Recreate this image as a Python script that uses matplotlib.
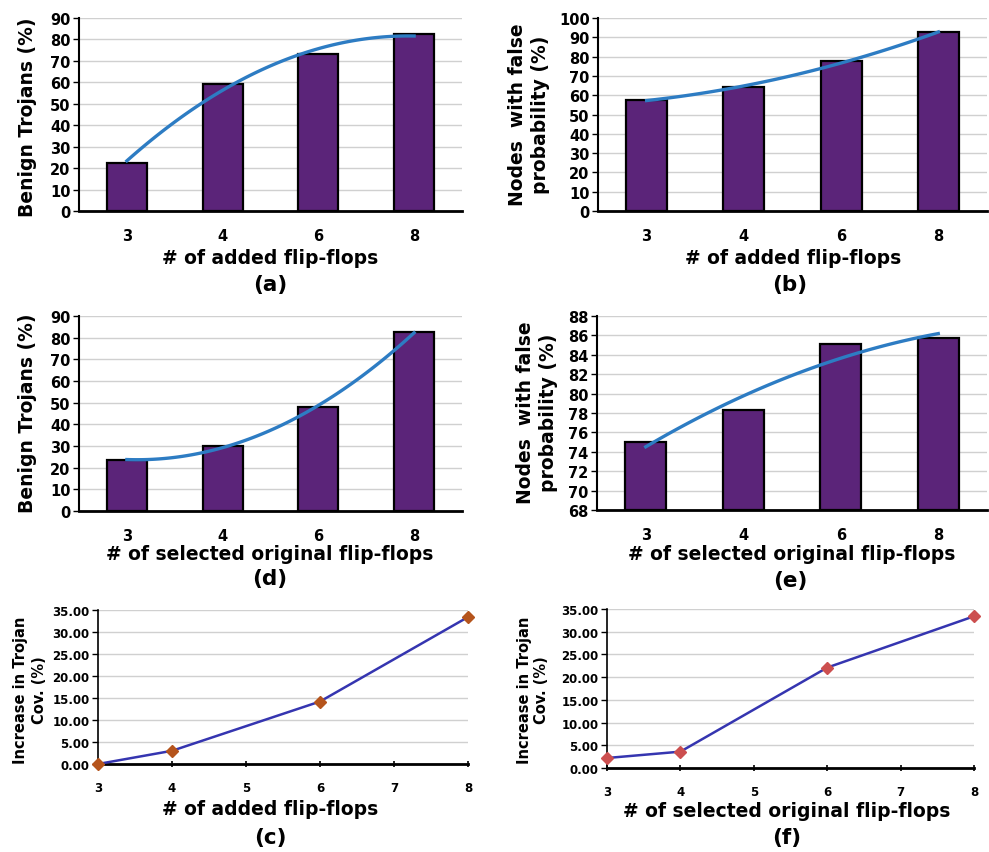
import numpy as np
import matplotlib
matplotlib.use("Agg")
import matplotlib.pyplot as plt

W, H = 989, 853

# ---- data ----
bar_cats = ["3", "4", "6", "8"]
benign_added = [22.5, 59, 73, 82.5]            # (a)
nodes_added = [57.5, 64, 77.5, 92.5]           # (b)
benign_selected = [23.5, 30, 48, 82.5]         # (d)
nodes_selected = [75, 78.3, 85.1, 85.7]        # (e)

cov_x = [3, 4, 6, 8]
cov_added = [0.0, 3.0, 14.2, 33.4]             # (c)
cov_selected = [2.2, 3.6, 22.1, 33.4]          # (f)

BAR = "#5b2479"
TREND = "#2d7cc3"
LINE = "#3535b0"

plt.rcParams["font.family"] = "DejaVu Sans"
plt.rcParams["font.weight"] = "bold"

fig = plt.figure(figsize=(W / 100, H / 100), dpi=100)


def box(left, right, top, bottom):
    return [left / W, 1 - bottom / H, (right - left) / W, (bottom - top) / H]


def ftext(x, y, s, size, rot=0):
    fig.text(x / W, 1 - y / H, s, ha="center", va="center", fontsize=size,
             fontweight="bold", rotation=rot, linespacing=1.25)


def bar_panel(rect, vals, ylim, step):
    ax = fig.add_axes(rect)
    x = np.arange(len(vals))
    ax.bar(x, np.array(vals) - ylim[0], bottom=ylim[0], width=0.42, color=BAR,
           edgecolor="black", linewidth=1.6, zorder=3)
    # order 2 polynomial trendline of the bar values (as in the original chart)
    coef = np.polyfit(x, vals, 2)
    xs = np.linspace(0, len(vals) - 1, 100)
    ax.plot(xs, np.polyval(coef, xs), color=TREND, lw=2.4, zorder=4)
    ax.set_xlim(-0.5, len(vals) - 0.5)
    ax.set_ylim(*ylim)
    ax.set_yticks(np.arange(ylim[0], ylim[1] + 0.1, step))
    ax.set_xticks(x)
    ax.set_xticklabels(bar_cats)
    ax.grid(axis="y", color="#d0d0d0", lw=1.0, zorder=0)
    for s in ("top", "right"):
        ax.spines[s].set_visible(False)
    ax.spines["left"].set_linewidth(1.5)
    ax.spines["bottom"].set_linewidth(2.0)
    ax.tick_params(axis="y", length=4, width=1, pad=2, labelsize=10.5)
    ax.tick_params(axis="x", length=0, pad=12, labelsize=10.5)
    for lab in ax.get_xticklabels() + ax.get_yticklabels():
        lab.set_fontweight("bold")
    return ax


def line_panel(rect, yvals, mcolor):
    ax = fig.add_axes(rect)
    ax.plot(cov_x, yvals, color=LINE, lw=1.8, marker="D", markersize=6,
            markerfacecolor=mcolor, markeredgecolor=mcolor, zorder=3,
            clip_on=False)
    ax.set_xlim(3, 8)
    ax.set_ylim(0, 35)
    ticks = np.arange(0, 35.1, 5)
    ax.set_yticks(ticks)
    ax.set_yticklabels([f"{v:.2f}" for v in ticks])
    ax.set_xticks(range(3, 9))
    ax.grid(axis="y", color="#d0d0d0", lw=1.0, zorder=0)
    for s in ("top", "right"):
        ax.spines[s].set_visible(False)
    ax.spines["left"].set_linewidth(1.2)
    ax.spines["bottom"].set_linewidth(2.0)
    ax.tick_params(axis="y", length=4, width=1, pad=2, labelsize=8.5)
    ax.tick_params(axis="x", length=5, width=1.2, direction="inout", pad=10,
                   labelsize=8.5)
    for lab in ax.get_xticklabels() + ax.get_yticklabels():
        lab.set_fontweight("bold")
    return ax


# (a)
bar_panel(box(79, 462, 19, 212), benign_added, (0, 90), 10)
ftext(28, 117, "Benign Trojans (%)", 13.5, 90)
ftext(270, 258, "# of added flip-flops", 13.5)
ftext(270, 285, "(a)", 15.5)

# (b)
bar_panel(box(598, 987, 19, 212), nodes_added, (0, 100), 10)
ftext(529, 115, "Nodes  with false\nprobability (%)", 13.5, 90)
ftext(793, 258, "# of added flip-flops", 13.5)
ftext(790, 285, "(b)", 15.5)

# (d)
bar_panel(box(79, 462, 317, 512), benign_selected, (0, 90), 10)
ftext(28, 413, "Benign Trojans (%)", 13.5, 90)
ftext(270, 555, "# of selected original flip-flops", 13.5)
ftext(270, 579, "(d)", 15.5)

# (e)
bar_panel(box(597, 987, 317, 511), nodes_selected, (68, 88), 2)
ftext(537, 413, "Nodes  with false\nprobability (%)", 13.5, 90)
ftext(792, 555, "# of selected original flip-flops", 13.5)
ftext(790, 581, "(e)", 15.5)

# (c)
line_panel(box(98, 468, 611, 765), cov_added, "#b5541c")
ftext(30, 690, "Increase in Trojan\nCov. (%)", 10.5, 90)
ftext(270, 810, "# of added flip-flops", 13.5)
ftext(270, 838, "(c)", 15.5)

# (f)
line_panel(box(607, 974, 610, 769), cov_selected, "#cc4f4f")
ftext(533, 690, "Increase in Trojan\nCov. (%)", 10.5, 90)
ftext(787, 812, "# of selected original flip-flops", 13.5)
ftext(787, 838, "(f)", 15.5)

fig.savefig("out.png", dpi=100)
